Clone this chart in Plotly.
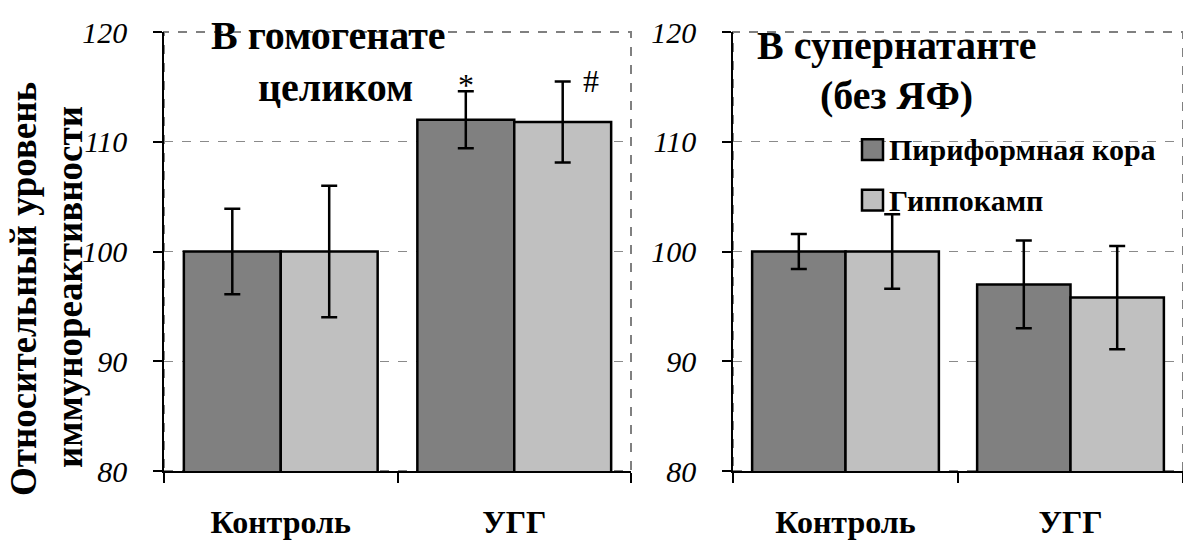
import plotly.graph_objects as go
from plotly.subplots import make_subplots

categories = ["Контроль", "УГГ"]
series_names = ["Пириформная кора", "Гиппокамп"]
series_colors = ["#808080", "#C0C0C0"]

# Panel 1: homogenate
hom_piriform = [100.0, 112.0]
hom_piriform_err = [3.9, 2.6]
hom_hippo = [100.0, 111.8]
hom_hippo_err = [6.0, 3.7]

# Panel 2: supernatant
sup_piriform = [100.0, 97.0]
sup_piriform_err = [1.6, 4.0]
sup_hippo = [100.0, 95.8]
sup_hippo_err = [3.4, 4.7]

y_ticks = [80, 90, 100, 110, 120]
y_title_lines = ["Относительный уровень", "иммунореактивности"]
panel_titles = [["В гомогенате", "целиком"], ["В супернатанте", "(без ЯФ)"]]
marks = ["*", "#"]

W, H = 1183, 540
MT, MB = 32, 64
SERIF = "Liberation Serif"

fig = make_subplots(rows=1, cols=2)

panels = [
    (hom_piriform, hom_piriform_err, hom_hippo, hom_hippo_err),
    (sup_piriform, sup_piriform_err, sup_hippo, sup_hippo_err),
]
for col, (p, pe, h, he) in enumerate(panels, start=1):
    for vals, errs, name, color in [(p, pe, series_names[0], series_colors[0]),
                                     (h, he, series_names[1], series_colors[1])]:
        fig.add_trace(go.Bar(
            x=categories, y=vals, name=name, showlegend=False,
            marker=dict(color=color, line=dict(color="black", width=2.5)),
            error_y=dict(type="data", array=errs, visible=True, color="black",
                         thickness=2.5, width=8),
        ), row=1, col=col)

fig.update_layout(
    width=W, height=H, barmode="group", bargap=0.17, bargroupgap=0,
    plot_bgcolor="white", paper_bgcolor="white",
    margin=dict(l=0, r=0, t=MT, b=MB),
    showlegend=False,
    font=dict(family=SERIF, color="black"),
)

xdomains = [[164 / W, 631 / W], [733 / W, 1.0]]
for i, (xa, ya) in enumerate([("xaxis", "yaxis"), ("xaxis2", "yaxis2")]):
    fig.layout[xa].update(
        domain=xdomains[i], type="category", tickson="boundaries",
        ticks="outside", ticklen=10, tickwidth=1.5, tickcolor="black",
        showline=True, linecolor="black", linewidth=1.5, showgrid=False,
        tickfont=dict(family=SERIF, size=32, color="black", weight="bold"),
        ticklabelstandoff=22,
    )
    fig.layout[ya].update(
        range=[80, 120], tickvals=y_ticks, ticks="outside", ticklen=9,
        tickwidth=1.5, tickcolor="black", showline=True, linecolor="black",
        linewidth=1.5, showgrid=True, gridcolor="#8a8a8a", griddash="dash",
        gridwidth=1, zeroline=False,
        tickfont=dict(family=SERIF, size=30, color="black", style="italic"),
        ticklabelstandoff=20,
    )

# plot-area dashed borders
for xr, yr in [("x domain", "y domain"), ("x2 domain", "y2 domain")]:
    fig.add_shape(type="rect", xref=xr, yref=yr, x0=0, x1=1, y0=0, y1=1,
                  line=dict(color="#808080", width=2, dash="dash"), layer="below")

def px(x):
    return x / W

def py(y):
    return (H - MB - y) / (H - MT - MB)

ann = []
# y-axis title (two lines)
ann.append(dict(text=y_title_lines[0], x=px(23), y=py(292), textangle=-90,
                font=dict(size=37, weight="bold")))
ann.append(dict(text=y_title_lines[1], x=px(69), y=py(290), textangle=-90,
                font=dict(size=37, weight="bold")))
# panel titles
ann.append(dict(text=panel_titles[0][0], x=px(328), y=py(36), font=dict(size=40, weight="bold")))
ann.append(dict(text=panel_titles[0][1], x=px(335), y=py(88), font=dict(size=40, weight="bold")))
ann.append(dict(text=panel_titles[1][0], x=px(897), y=py(46), font=dict(size=40, weight="bold")))
ann.append(dict(text=panel_titles[1][1], x=px(896), y=py(96), font=dict(size=40, weight="bold")))
for a in ann:
    a.update(xref="paper", yref="paper", showarrow=False, xanchor="center", yanchor="middle")
    a["font"]["family"] = SERIF
    a["font"]["color"] = "black"
    fig.add_annotation(**a)

# significance marks above УГГ error bars (left panel)
for k, (vals, errs) in enumerate([(hom_piriform, hom_piriform_err), (hom_hippo, hom_hippo_err)]):
    fig.add_annotation(x=1, xref="x", y=vals[1] + errs[1], yref="y", text=marks[k],
                       showarrow=False, yanchor="bottom",
                       xshift=[-48, 77][k], yshift=[-14, -20][k],
                       font=dict(family=SERIF, size=32, color="black"))

# custom legend (right panel)
leg_y = [151, 202]
for i in range(2):
    fig.add_shape(type="rect", xref="paper", yref="paper",
                  x0=px(862), x1=px(883), y0=py(leg_y[i] + 10.5), y1=py(leg_y[i] - 10.5),
                  fillcolor=series_colors[i], line=dict(color="black", width=2.5))
    fig.add_annotation(text=series_names[i], xref="paper", yref="paper",
                       x=px(887), y=py(leg_y[i]), xanchor="left", yanchor="middle",
                       showarrow=False, font=dict(family=SERIF, size=30, color="black", weight="bold"))

fig.write_html("out.html")
